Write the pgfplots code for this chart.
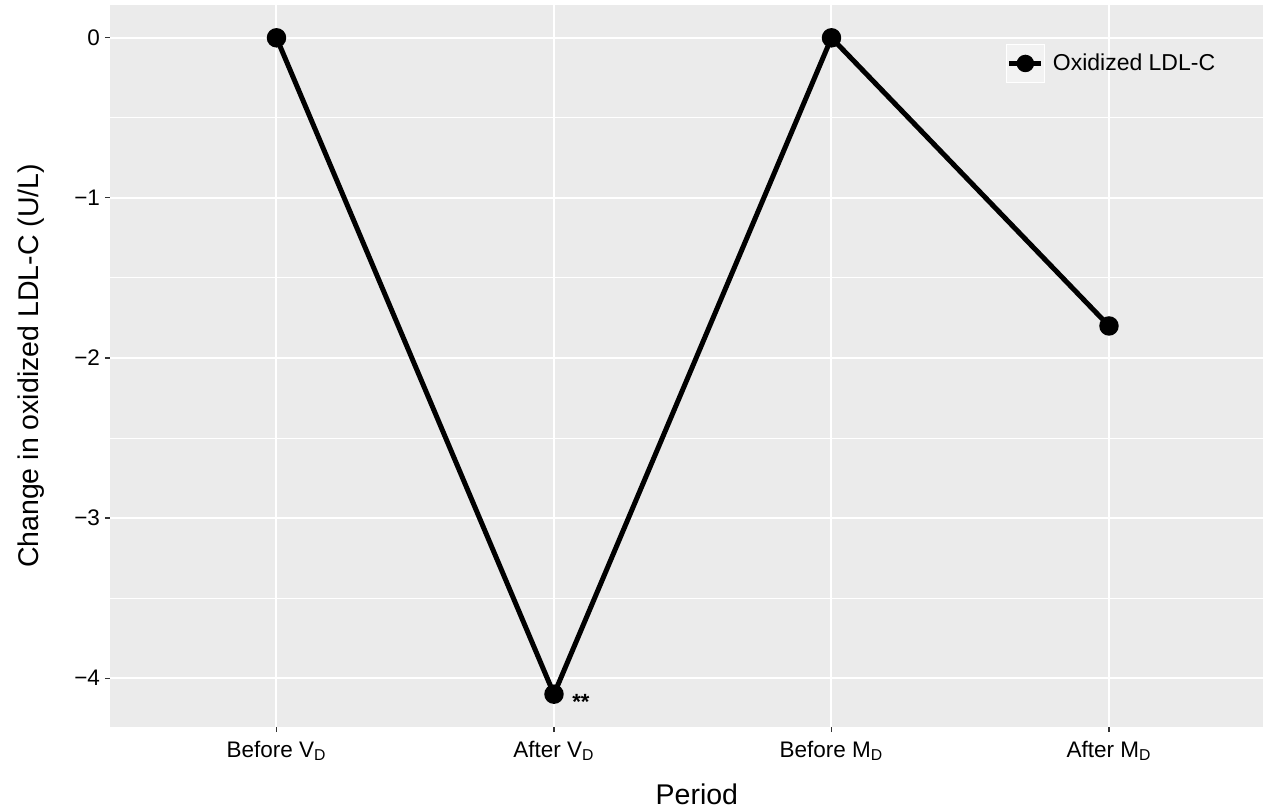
\documentclass[border=0pt]{standalone}
\usepackage{pgfplots}
\pgfplotsset{compat=1.18}
\usepackage{fontspec}
\setmainfont{Liberation Sans}
\definecolor{panelgray}{HTML}{EBEBEB}
\definecolor{keygray}{HTML}{F2F2F2}
\definecolor{tickgray}{HTML}{333333}
\begin{document}
\begin{tikzpicture}
\useasboundingbox (-55bp,-42.5bp) rectangle (576.5bp,363.5bp);
\begin{axis}[
  at={(0,0)}, anchor=south west,
  scale only axis,
  width=576.5bp, height=361bp,
  xmin=0.4, xmax=4.555,
  ymin=-4.305, ymax=0.205,
  xtick={1,2,3,4},
  xticklabels={Before V\textsubscript{D}, After V\textsubscript{D}, Before M\textsubscript{D}, After M\textsubscript{D}},
  ytick={-4,-3,-2,-1,0},
  yticklabels={−4,−3,−2,−1,0},
  minor ytick={-3.5,-2.5,-1.5,-0.5},
  grid=both,
  major grid style={white, line width=1bp},
  minor grid style={white, line width=0.5bp},
  axis background/.style={fill=panelgray},
  axis line style={draw=none},
  tick pos=left,
  tick align=outside,
  major tick length=2.5bp,
  minor tick length=0pt,
  tick style={tickgray, line width=0.6bp},
  xticklabel style={font=\fontsize{11.25bp}{13bp}\selectfont, text=black, yshift=-1bp},
  yticklabel style={font=\fontsize{11.25bp}{13bp}\selectfont, text=black, xshift=1bp},
  xlabel={Period},
  ylabel={Change in oxidized LDL-C (U/L)},
  xlabel style={font=\fontsize{14.25bp}{17bp}\selectfont, at={(axis description cs:0.509,-0.108)}, anchor=base},
  ylabel style={font=\fontsize{14.25bp}{17bp}\selectfont, at={(axis description cs:-0.0616,0.5)}, anchor=base, rotate=0},
  legend style={at={(0.777,0.946)}, anchor=north west, draw=none, fill=none,
    inner sep=0pt, outer sep=0pt, column sep=2bp,
    font=\fontsize{11.5bp}{13bp}\selectfont},
  legend cell align=left,
  legend image code/.code={
    \draw[fill=keygray, draw=white, line width=0.5bp] (0bp,-9.5bp) rectangle (19bp,9.5bp);
    \draw[black, line width=2.5bp] (1.5bp,0bp) -- (17.5bp,0bp);
    \fill[black] (9.5bp,0bp) circle (3.1bp);
  },
]
\addplot[black, line width=2.5bp, mark=*, mark size=3.6bp, mark options={solid, fill=black, draw=none}]
  coordinates {(1,0) (2,-4.1) (3,0) (4,-1.8)};
\addlegendentry{Oxidized LDL-C}
\node[font=\fontsize{11bp}{13bp}\selectfont\bfseries] at (axis cs:2.097,-4.15) {**};
\end{axis}
\end{tikzpicture}
\end{document}
